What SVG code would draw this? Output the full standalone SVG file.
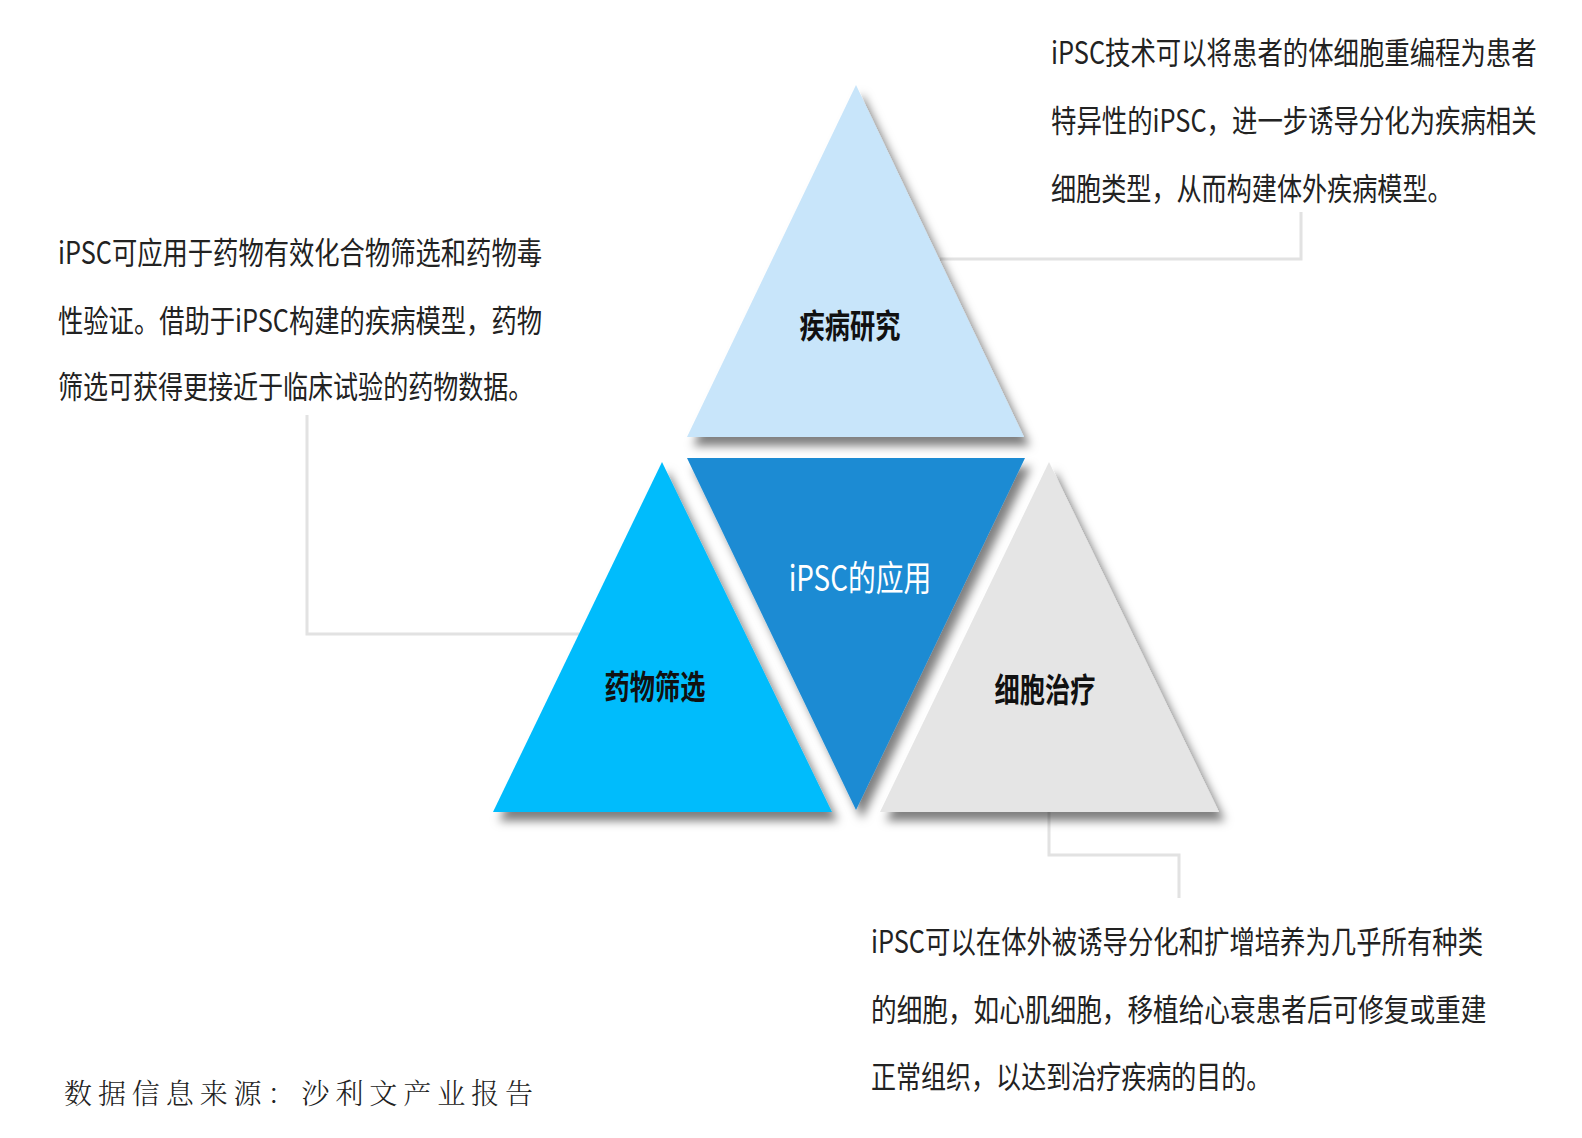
<svg xmlns="http://www.w3.org/2000/svg" width="1582" height="1138" viewBox="0 0 1582 1138">
<defs>
<style>
.body{font-family:"Noto Sans CJK SC","Liberation Sans",sans-serif;font-size:31px;fill:#222;}
.lab{font-family:"Noto Sans CJK SC","Liberation Sans",sans-serif;font-size:33px;font-weight:bold;fill:#111;text-anchor:middle;}
.conn{fill:none;stroke:#E2E2E2;stroke-width:3;}
.foot{font-family:"Noto Serif CJK SC","Noto Sans CJK SC","Liberation Serif",serif;font-size:28px;fill:#222;font-weight:300;}
</style>
<filter id="sh" x="-20%" y="-20%" width="140%" height="140%">
<feDropShadow dx="6" dy="9" stdDeviation="5" flood-color="#000" flood-opacity="0.5"/>
</filter>
</defs>
<rect width="1582" height="1138" fill="#fff"/>
<g id="connectors">
<path class="conn" d="M940 259 H1301 V212"/>
<path class="conn" d="M307 415 V634 H580"/>
<path class="conn" d="M1049 812 V855 H1179 V898"/>
</g>
<g id="node-disease">
<polygon points="856,85 1024,437 687,437" fill="#C8E5FA" filter="url(#sh)"/>
<text class="lab" transform="translate(850 338) scale(0.82 1)" x="0" y="0" textLength="123" lengthAdjust="spacingAndGlyphs">疾病研究</text>
</g>
<g id="node-center">
<polygon points="687,458 1025,458 856,810" fill="#1B8BD3" filter="url(#sh)"/>
<text class="lab" transform="translate(860 591) scale(0.82 1)" x="0" y="0" style="fill:#fff;font-weight:normal;font-size:35px" textLength="174" lengthAdjust="spacingAndGlyphs">iPSC的应用</text>
</g>
<g id="node-drug">
<polygon points="662,462 832,812 493,812" fill="#06BCFC" filter="url(#sh)"/>
<text class="lab" transform="translate(655 699) scale(0.82 1)" x="0" y="0" textLength="123" lengthAdjust="spacingAndGlyphs">药物筛选</text>
</g>
<g id="node-cell">
<polygon points="1049,462 1219,812 880,812" fill="#E5E5E5" filter="url(#sh)"/>
<text class="lab" transform="translate(1045 702) scale(0.82 1)" x="0" y="0" textLength="123" lengthAdjust="spacingAndGlyphs">细胞治疗</text>
</g>
<g id="text-disease">
<text class="body" transform="translate(1051 64) scale(0.8 1)" x="0" y="0" textLength="607" lengthAdjust="spacingAndGlyphs">iPSC技术可以将患者的体细胞重编程为患者</text>
<text class="body" transform="translate(1051 132) scale(0.8 1)" x="0" y="0" textLength="607" lengthAdjust="spacingAndGlyphs">特异性的iPSC，进一步诱导分化为疾病相关</text>
<text class="body" transform="translate(1051 200) scale(0.8 1)" x="0" y="0" textLength="502" lengthAdjust="spacingAndGlyphs">细胞类型，从而构建体外疾病模型。</text>
</g>
<g id="text-drug">
<text class="body" transform="translate(58 264) scale(0.8 1)" x="0" y="0" textLength="605" lengthAdjust="spacingAndGlyphs">iPSC可应用于药物有效化合物筛选和药物毒</text>
<text class="body" transform="translate(58 332) scale(0.8 1)" x="0" y="0" textLength="605" lengthAdjust="spacingAndGlyphs">性验证。借助于iPSC构建的疾病模型，药物</text>
<text class="body" transform="translate(58 398) scale(0.8 1)" x="0" y="0" textLength="594" lengthAdjust="spacingAndGlyphs">筛选可获得更接近于临床试验的药物数据。</text>
</g>
<g id="text-cell">
<text class="body" transform="translate(871 953) scale(0.85 1)" x="0" y="0" textLength="720" lengthAdjust="spacingAndGlyphs">iPSC可以在体外被诱导分化和扩增培养为几乎所有种类</text>
<text class="body" transform="translate(871 1021) scale(0.85 1)" x="0" y="0" textLength="724" lengthAdjust="spacingAndGlyphs">的细胞，如心肌细胞，移植给心衰患者后可修复或重建</text>
<text class="body" transform="translate(871 1088) scale(0.85 1)" x="0" y="0" textLength="471" lengthAdjust="spacingAndGlyphs">正常组织，以达到治疗疾病的目的。</text>
</g>
<g id="footnote">
<text class="foot" x="64" y="1104" textLength="469" lengthAdjust="spacing">数据信息来源：沙利文产业报告</text>
</g>
</svg>
